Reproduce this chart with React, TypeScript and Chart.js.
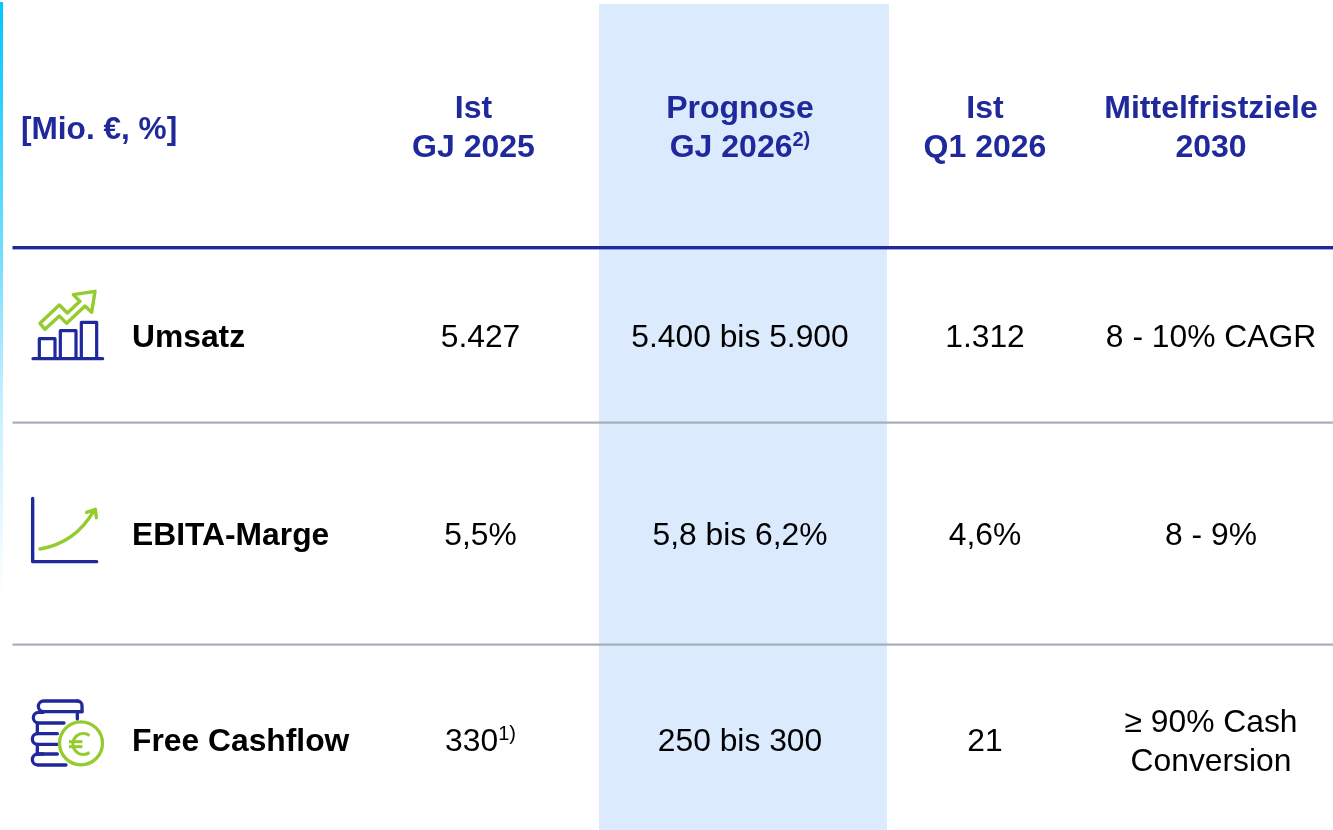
import React, { useEffect, useRef } from "react";
import { Chart, registerables } from "chart.js";

Chart.register(...registerables);

const unitLabel = "[Mio. €, %]";
const headerLine1 = ["Ist", "Prognose", "Ist", "Mittelfristziele"];
const headerLine2 = ["GJ 2025", "GJ 2026", "Q1 2026", "2030"];
const headerSup = ["", "2)", "", ""];
const rowLabels = ["Umsatz", "EBITA-Marge", "Free Cashflow"];
const istGj2025 = ["5.427", "5,5%", "330"];
const istGj2025Sup = ["", "", "1)"];
const prognose2026 = ["5.400 bis 5.900", "5,8 bis 6,2%", "250 bis 300"];
const istQ12026 = ["1.312", "4,6%", "21"];
const ziele2030 = [["8 - 10% CAGR"], ["8 - 9%"], ["≥ 90% Cash", "Conversion"]];

const NAVY = "#20299b";
const GREEN = "#93cc2c";
const GREY = "#a6aeb8";
const BAND = "#dbeafc";
const FONT = '"Liberation Sans", Arial, sans-serif';

const headerCx = [473.5, 740, 985, 1211];
const bodyCx = [480.5, 740, 985, 1211];
const rowBaseline = [347, 545, 751];

type Ctx = CanvasRenderingContext2D;

function textWithSup(ctx: Ctx, text: string, sup: string, cx: number, y: number, font: string, supFont: string, color: string) {
  ctx.fillStyle = color;
  ctx.textAlign = "left";
  ctx.textBaseline = "alphabetic";
  ctx.font = font;
  const w = ctx.measureText(text).width;
  ctx.font = supFont;
  const sw = sup ? ctx.measureText(sup).width : 0;
  const x = cx - (w + sw) / 2;
  ctx.font = font;
  ctx.fillText(text, x, y);
  if (sup) {
    ctx.font = supFont;
    ctx.fillText(sup, x + w, y - 11);
  }
}

function poly(ctx: Ctx, pts: number[][], ox: number, oy: number, close = false) {
  ctx.beginPath();
  pts.forEach(([a, b], i) => {
    const px = ox + a / 3;
    const py = oy + b / 3;
    if (i === 0) ctx.moveTo(px, py);
    else ctx.lineTo(px, py);
  });
  if (close) ctx.closePath();
  ctx.stroke();
}

function iconRevenue(ctx: Ctx) {
  const ox = 0, oy = 270;
  ctx.strokeStyle = NAVY;
  ctx.lineWidth = 3.2;
  ctx.lineJoin = "round";
  ctx.lineCap = "round";
  poly(ctx, [[118, 264], [118, 206], [165, 206], [165, 264]], ox, oy);
  poly(ctx, [[181, 264], [181, 182], [228, 182], [228, 264]], ox, oy);
  poly(ctx, [[244, 264], [244, 157], [290, 157], [290, 264]], ox, oy);
  poly(ctx, [[99, 266], [308, 266]], ox, oy);
  ctx.strokeStyle = GREEN;
  ctx.lineWidth = 3.4;
  poly(ctx, [[120, 160], [178, 105], [202, 129], [240, 94], [220, 74], [285, 64], [275, 127], [255, 108], [200, 160], [178, 138], [135, 178]], ox, oy, true);
}

function iconMargin(ctx: Ctx) {
  const ox = 0, oy = 480;
  ctx.strokeStyle = NAVY;
  ctx.lineWidth = 3.4;
  ctx.lineJoin = "round";
  ctx.lineCap = "round";
  poly(ctx, [[98, 55], [98, 245], [290, 245]], ox, oy);
  ctx.strokeStyle = GREEN;
  ctx.lineWidth = 3.4;
  ctx.beginPath();
  ctx.moveTo(ox + 120 / 3, oy + 207 / 3);
  ctx.quadraticCurveTo(ox + 225 / 3, oy + 190 / 3, ox + 282 / 3, oy + 92 / 3);
  ctx.stroke();
  poly(ctx, [[260, 97], [286, 88], [289, 113]], ox, oy);
}

function iconCash(ctx: Ctx) {
  const ox = 0, oy = 685;
  ctx.strokeStyle = NAVY;
  ctx.lineWidth = 3.3;
  ctx.lineJoin = "round";
  ctx.lineCap = "round";
  const coin = (l: number, t: number, b: number, rt: number, rb: number) => {
    const k = ((b - t) / 2) / 3;
    ctx.beginPath();
    ctx.moveTo(ox + rt / 3, oy + t / 3);
    ctx.lineTo(ox + l / 3 + k, oy + t / 3);
    ctx.arc(ox + l / 3 + k, oy + (t + b) / 6, k, -Math.PI / 2, Math.PI / 2, true);
    ctx.lineTo(ox + rb / 3, oy + b / 3);
    ctx.stroke();
  };
  coin(115, 48, 80, 232, 246);
  ctx.beginPath();
  ctx.moveTo(ox + 232 / 3, oy + 48 / 3);
  ctx.arcTo(ox + 246 / 3, oy + 48 / 3, ox + 246 / 3, oy + 64 / 3, 4.5);
  ctx.lineTo(ox + 246 / 3, oy + 80 / 3);
  ctx.lineTo(ox + 232 / 3, oy + 80 / 3);
  ctx.stroke();
  coin(100, 82, 114, 130, 192);
  poly(ctx, [[232, 82], [232, 102]], ox, oy);
  poly(ctx, [[112, 114], [112, 146]], ox, oy);
  coin(97, 146, 178, 172, 172);
  poly(ctx, [[112, 178], [112, 207]], ox, oy);
  coin(97, 207, 240, 130, 198);
  poly(ctx, [[112, 207], [172, 207]], ox, oy);
  ctx.strokeStyle = GREEN;
  ctx.lineWidth = 3.3;
  ctx.beginPath();
  ctx.arc(ox + 243 / 3, oy + 175 / 3, 21.5, 0, Math.PI * 2);
  ctx.stroke();
  ctx.lineWidth = 3;
  ctx.lineCap = "butt";
  ctx.beginPath();
  ctx.arc(ox + 250 / 3, oy + 177 / 3, 10.5, Math.PI * 0.3, Math.PI * 1.7);
  ctx.stroke();
  poly(ctx, [[207, 170], [247, 170]], ox, oy);
  poly(ctx, [[207, 185], [247, 185]], ox, oy);
}

const tablePlugin = {
  id: "tablePlugin",
  afterDraw(chart: any) {
    const ctx: Ctx = chart.ctx;
    const X = (v: number) => chart.scales.x.getPixelForValue(v);
    const Y = (v: number) => chart.scales.y.getPixelForValue(v);
    ctx.save();

    const strip = ctx.createLinearGradient(0, Y(0), 0, Y(600));
    strip.addColorStop(0, "#00c6ff");
    strip.addColorStop(0.42, "#70deff");
    strip.addColorStop(0.65, "#c0eeff");
    strip.addColorStop(1, "#ffffff");
    ctx.fillStyle = strip;
    ctx.fillRect(X(0), Y(2), 3, Y(600) - Y(2));

    ctx.fillStyle = BAND;
    ctx.fillRect(X(599), Y(4), 290, 244);
    ctx.fillRect(X(599), Y(248), 288, 582);

    ctx.fillStyle = NAVY;
    ctx.fillRect(X(12.5), Y(246), 1321, 3.4);
    ctx.fillStyle = GREY;
    ctx.fillRect(X(12.5), Y(421.5), 1321, 2.2);
    ctx.fillRect(X(12.5), Y(643.5), 1321, 2.2);

    const bold = `bold 32px ${FONT}`;
    const boldSup = `bold 20px ${FONT}`;
    const reg = `31.8px ${FONT}`;
    const regSup = `20px ${FONT}`;

    ctx.fillStyle = NAVY;
    ctx.textAlign = "left";
    ctx.font = `bold 31.6px ${FONT}`;
    ctx.fillText(unitLabel, X(21), Y(139));

    headerLine1.forEach((t, i) => {
      textWithSup(ctx, t, "", X(headerCx[i]), Y(118), bold, boldSup, NAVY);
      textWithSup(ctx, headerLine2[i], headerSup[i], X(headerCx[i]), Y(157), bold, boldSup, NAVY);
    });

    rowLabels.forEach((label, r) => {
      const y = rowBaseline[r];
      ctx.fillStyle = "#000000";
      ctx.textAlign = "left";
      ctx.font = `bold 31.8px ${FONT}`;
      ctx.fillText(label, X(132), Y(y));
      textWithSup(ctx, istGj2025[r], istGj2025Sup[r], X(bodyCx[0]), Y(y), reg, regSup, "#000000");
      textWithSup(ctx, prognose2026[r], "", X(bodyCx[1]), Y(y), reg, regSup, "#000000");
      textWithSup(ctx, istQ12026[r], "", X(bodyCx[2]), Y(y), reg, regSup, "#000000");
      const lines = ziele2030[r];
      lines.forEach((l, k) => {
        const ly = lines.length === 1 ? y : y - 19 + k * 39;
        textWithSup(ctx, l, "", X(bodyCx[3]), Y(ly), reg, regSup, "#000000");
      });
    });

    iconRevenue(ctx);
    iconMargin(ctx);
    iconCash(ctx);
    ctx.restore();
  },
};

export default function App() {
  const ref = useRef<HTMLCanvasElement>(null);
  useEffect(() => {
    document.body.style.margin = "0";
    document.body.style.background = "#ffffff";
    const chart = new Chart(ref.current!, {
      type: "scatter",
      data: { datasets: [{ label: "Kennzahlen", data: [] }] },
      options: {
        animation: false,
        responsive: false,
        layout: { padding: 0 },
        plugins: { legend: { display: false }, tooltip: { enabled: false }, title: { display: false } },
        scales: {
          x: { type: "linear", min: 0, max: 1333, display: false },
          y: { type: "linear", min: 0, max: 830, reverse: true, display: false },
        },
      },
      plugins: [tablePlugin],
    } as any);
    return () => chart.destroy();
  }, []);
  return <canvas ref={ref} width={1333} height={830} style={{ display: "block" }} />;
}
